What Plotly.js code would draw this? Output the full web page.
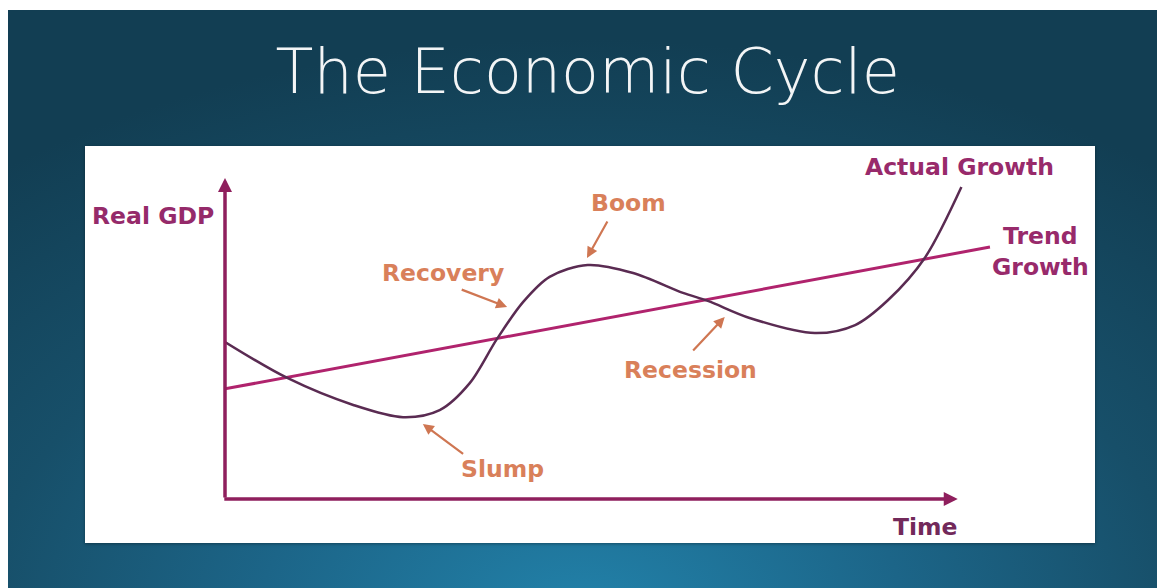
<!DOCTYPE html>
<html>
<head>
<meta charset="utf-8">
<script src="https://cdn.plot.ly/plotly-3.0.1.min.js"></script>
<style>
  html, body { margin: 0; padding: 0; background: #ffffff; }
  #wrap { position: relative; width: 1157px; height: 588px; overflow: hidden; background: #ffffff; }
  #bg { position: absolute; left: 8px; top: 10px; width: 1149px; height: 578px;
        background: radial-gradient(ellipse 80% 100% at 50% 105%, #2282aa 0%, #1c6588 35%, #174f69 65%, #123e53 100%); }
  #panel { position: absolute; left: 85px; top: 146px; width: 1010px; height: 397px; background: #ffffff;
           box-shadow: 0 1px 3px rgba(0,0,0,0.35); }
  #chart { position: absolute; left: 0; top: 0; width: 1157px; height: 588px; }
</style>
</head>
<body>
<div id="wrap">
  <div id="bg"></div>
  <div id="panel"></div>
  <div id="chart"></div>
</div>
<script>
// ---- data ----
const actualTime = [0, 8.5, 17.5, 24.3, 29.3, 33.4, 37.1, 40.7, 44.3, 49.5, 55.7, 62.5, 65.9, 71.6, 80.5, 86.0, 90.5, 95.5, 100.5];
const actualGDP  = [48.9, 37.7, 29.3, 25.5, 27.7, 36.1, 49.8, 61.4, 69.2, 72.9, 70.4, 64.2, 61.7, 56.4, 51.7, 54.2, 62.0, 75.1, 97.2];
const trendTime  = [0, 104.4];
const trendGDP   = [34.3, 78.5];
const phaseLabels = ["Boom", "Recovery", "Recession", "Slump"];
const axisLabels  = ["Real GDP", "Time"];
const seriesLabels = ["Actual Growth", "Trend<br>Growth"];

const traces = [
  { x: trendTime, y: trendGDP, mode: 'lines', type: 'scatter', name: 'Trend Growth',
    line: { color: '#b0236d', width: 3 }, hoverinfo: 'skip', cliponaxis: false },
  { x: actualTime, y: actualGDP, mode: 'lines', type: 'scatter', name: 'Actual Growth',
    line: { color: '#5a2b52', width: 2.5, shape: 'spline', smoothing: 0.9 }, hoverinfo: 'skip', cliponaxis: false }
];

const labelFont = (color) => ({ family: 'DejaVu Sans', size: 23.5, color: color, weight: 'bold' });
const orange = '#d9805a';
const orangeArrow = '#cf7652';
const axisColor = '#8f1f5d';

function arrow(tail, head, color, width, size) {
  return { x: head[0], y: head[1], ax: tail[0], ay: tail[1], xref: 'x', yref: 'y', axref: 'x', ayref: 'y',
           text: '', showarrow: true, arrowhead: 2, arrowsize: size || 1, arrowwidth: width, arrowcolor: color,
           standoff: 0, startstandoff: 0 };
}
function label(pos, text, color) {
  return { x: pos[0], y: pos[1], xref: 'x', yref: 'y', text: text, showarrow: false,
           font: labelFont(color), xanchor: 'center', yanchor: 'middle', align: 'center' };
}
// labels positioned outside the plotting range use paper coordinates
function paperLabel(pos, text, color) {
  return { x: pos[0], y: pos[1], xref: 'paper', yref: 'paper', text: text, showarrow: false,
           font: labelFont(color), xanchor: 'center', yanchor: 'middle', align: 'center' };
}

const annotations = [
  // axes
  arrow([0, 0], [0, 100], axisColor, 3.5, 0.8),
  arrow([-0.3, 0], [100, 0], axisColor, 3.5, 0.8),
  // phase arrows
  arrow([52.3, 86.9], [49.4, 75.1], orangeArrow, 2.2),
  arrow([32.1, 65.4], [38.5, 59.8], orangeArrow, 2.2),
  arrow([63.7, 45.8], [68.2, 56.7], orangeArrow, 2.2),
  arrow([32.7, 13.7], [27.0, 23.4], orangeArrow, 2.2),
  // phase labels
  label([55.0, 92.2], phaseLabels[0], orange),
  label([29.75, 70.4], phaseLabels[1], orange),
  label([63.5, 40.2], phaseLabels[2], orange),
  label([37.9, 9.3], phaseLabels[3], orange),
  // axis labels
  paperLabel([-0.0893, 0.8816], axisLabels[0], '#952a6a'),
  paperLabel([0.8685, -0.0872], axisLabels[1], '#72295a'),
  // series labels
  paperLabel([0.9119, 1.0343], seriesLabels[0], '#982a6b'),
  paperLabel([1.0112, 0.7695], seriesLabels[1], '#982a6b')
];

const layout = {
  width: 1157, height: 588,
  margin: { l: 225, r: 126, t: 178, b: 89, pad: 0 },
  paper_bgcolor: 'rgba(0,0,0,0)',
  plot_bgcolor: 'rgba(0,0,0,0)',
  showlegend: false,
  title: { text: 'The Economic Cycle', x: 0.508, xanchor: 'center', y: 0.878, yanchor: 'middle',
           font: { family: 'DejaVu Sans', size: 62, color: '#f3f5f6', weight: 200 } },
  xaxis: { range: [0, 110], visible: false, fixedrange: true },
  yaxis: { range: [0, 100], visible: false, fixedrange: true },
  annotations: annotations
};

Plotly.newPlot('chart', traces, layout, { displayModeBar: false, staticPlot: true });
</script>
</body>
</html>
